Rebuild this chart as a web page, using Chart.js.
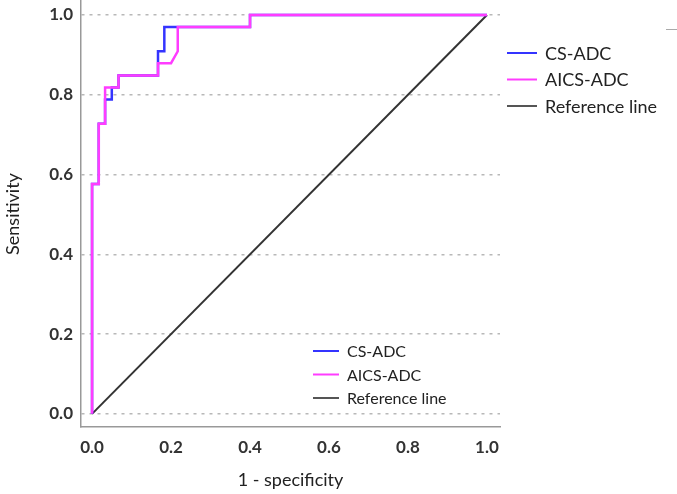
<!DOCTYPE html>
<html>
<head>
<meta charset="utf-8">
<script src="https://cdn.jsdelivr.net/npm/chart.js@4.4.1/dist/chart.umd.min.js"></script>
<style>
  html, body { margin: 0; padding: 0; background: #fff; }
  #wrap { position: relative; width: 677px; height: 494px; }
</style>
</head>
<body>
<div id="wrap"><canvas id="roc"></canvas></div>
<script>
// ROC corner points (1 - specificity, sensitivity)
const csFpr   = [0, 0, 0.017, 0.017, 0.033, 0.033, 0.05, 0.05, 0.067, 0.067, 0.167, 0.167, 0.183, 0.183, 0.4, 0.4, 1];
const csTpr   = [0, 0.576, 0.576, 0.727, 0.727, 0.788, 0.788, 0.818, 0.818, 0.848, 0.848, 0.909, 0.909, 0.970, 0.970, 1, 1];
const aicsFpr = [0, 0, 0.017, 0.017, 0.033, 0.033, 0.067, 0.067, 0.167, 0.167, 0.2, 0.217, 0.217, 0.4, 0.4, 1];
const aicsTpr = [0, 0.576, 0.576, 0.727, 0.727, 0.818, 0.818, 0.848, 0.848, 0.879, 0.879, 0.909, 0.970, 0.970, 1, 1];
const refX = [0, 1];
const refY = [0, 1];
const tickValues = [0, 0.2, 0.4, 0.6, 0.8, 1.0];

const toPts = (xs, ys) => xs.map((x, i) => ({ x: x, y: ys[i] }));

// two legends drawn from the datasets (one right of the plot, one inside bottom)
const twoLegends = {
  id: 'twoLegends',
  afterDraw(chart) {
    const ctx = chart.ctx;
    const sets = chart.data.datasets.slice().sort((a, b) => a.legendIndex - b.legendIndex);
    const boxes = [
      { x: 507, y: 53, gap: 26.5, len: 30, font: '18px Lato', lw: 2 },
      { x: 313, y: 351, gap: 23.5, len: 26, font: '16px Lato', lw: 2 }
    ];
    ctx.save();
    boxes.forEach(b => {
      sets.forEach((ds, i) => {
        const y = b.y + i * b.gap;
        ctx.strokeStyle = ds.legendColor || ds.borderColor;
        ctx.lineWidth = b.lw;
        ctx.beginPath();
        ctx.moveTo(b.x, y);
        ctx.lineTo(b.x + b.len, y);
        ctx.stroke();
        ctx.fillStyle = '#222';
        ctx.font = b.font;
        ctx.textBaseline = 'middle';
        ctx.fillText(ds.label, b.x + b.len + 8, y + 1);
      });
    });
    // small stray dash in the top right corner
    ctx.strokeStyle = '#aaa';
    ctx.lineWidth = 1;
    ctx.beginPath();
    ctx.moveTo(666, 29.5);
    ctx.lineTo(677, 29.5);
    ctx.stroke();
    ctx.restore();
  }
};

new Chart(document.getElementById('roc'), {
  type: 'scatter',
  data: {
    datasets: [
      {
        label: 'AICS-ADC',
        data: toPts(aicsFpr, aicsTpr),
        showLine: true,
        borderColor: '#ff3cff',
        borderWidth: 2.5,
        pointRadius: 0,
        order: 0,
        legendIndex: 1
      },
      {
        label: 'CS-ADC',
        data: toPts(csFpr, csTpr),
        showLine: true,
        borderColor: '#3434ff',
        borderWidth: 2.5,
        pointRadius: 0,
        order: 1,
        legendIndex: 0
      },
      {
        label: 'Reference line',
        data: toPts(refX, refY),
        showLine: true,
        borderColor: '#333',
        legendColor: '#555',
        borderWidth: 2,
        pointRadius: 0,
        order: 2,
        legendIndex: 2
      }
    ]
  },
  options: {
    responsive: true,
    maintainAspectRatio: false,
    animation: false,
    layout: { padding: { left: 0, right: 177, top: 1, bottom: 0 } },
    plugins: {
      legend: { display: false },
      tooltip: { enabled: false }
    },
    scales: {
      x: {
        type: 'linear',
        min: -0.028,
        max: 1.033,
        afterBuildTicks: s => { s.ticks = tickValues.map(v => ({ value: v })); },
        afterFit: s => { s.height = 67; s.paddingLeft = 0; s.paddingRight = 0; },
        grid: { display: false },
        border: { display: true, color: '#999', width: 1.5 },
        ticks: {
          padding: 2,
          color: '#333',
          font: { family: 'Lato', size: 17, weight: 'bold' },
          callback: v => v.toFixed(1)
        },
        title: {
          display: true,
          text: '1 - specificity',
          color: '#222',
          font: { family: 'Lato', size: 18 },
          padding: { top: 3, bottom: 3 }
        }
      },
      y: {
        type: 'linear',
        min: -0.033,
        max: 1.035,
        afterBuildTicks: s => { s.ticks = tickValues.map(v => ({ value: v })); },
        afterFit: s => { s.width = 81; s.paddingTop = 0; s.paddingBottom = 0; },
        grid: {
          display: true,
          drawTicks: false,
          color: '#b8b8b8',
          lineWidth: 1.5
        },
        border: { display: true, color: '#999', width: 1.5, dash: [3, 5] },
        ticks: {
          padding: 8,
          color: '#333',
          font: { family: 'Lato', size: 17, weight: 'bold' },
          callback: v => v.toFixed(1)
        },
        title: {
          display: true,
          text: 'Sensitivity',
          color: '#222',
          font: { family: 'Lato', size: 18 },
          padding: { top: 2, bottom: 2 }
        }
      }
    }
  },
  plugins: [twoLegends]
});
</script>
</body>
</html>
